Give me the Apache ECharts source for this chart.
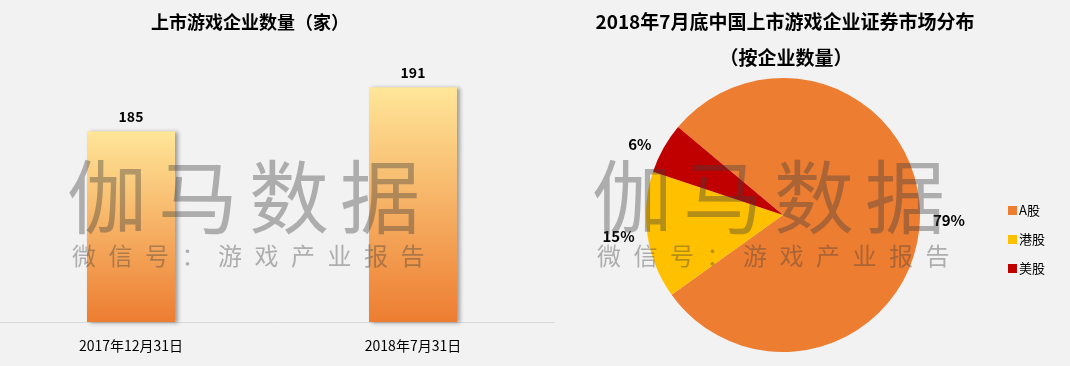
<!DOCTYPE html>
<html><head><meta charset="utf-8">
<script src="https://cdn.jsdelivr.net/npm/echarts@6/dist/echarts.min.js"></script>
<style>html,body{margin:0;padding:0;background:#f2f2f2}#c{width:1070px;height:366px}</style>
</head><body><div id="c"></div>
<script>
const barCategories = ['2017年12月31日', '2018年7月31日'];
const barValues = [185, 191];
const pieNames = ['A股', '港股', '美股'];
const pieValues = [79, 15, 6];
const pieColors = ['#ed7d31', '#ffc000', '#c00000'];
const titleLeft = '上市游戏企业数量（家）';
const titleRight1 = '2018年7月底中国上市游戏企业证券市场分布';
const titleRight2 = '（按企业数量）';
const wmBig = '伽马数据';
const wmSmall = '微信号：游戏产业报告';

const font = '"Noto Sans CJK SC", "Microsoft YaHei", sans-serif';
const chart = echarts.init(document.getElementById('c'));

function watermark(x0) {
  const els = [];
  Array.from(wmBig).forEach((ch, i) => {
    els.push({type:'text', z:100, silent:true, style:{x:x0 - 6 + i*91, y:157, text:ch, fontSize:80, fontWeight:'normal', fontFamily:font, fill:'rgba(60,60,60,0.38)'}});
  });
  Array.from(wmSmall).forEach((ch, i) => {
    els.push({type:'text', z:100, silent:true, style:{x:x0 - 1 + i*36.5, y:244, text:ch, fontSize:24, fontWeight:'normal', fontFamily:font, fill:'rgba(60,60,60,0.38)'}});
  });
  return els;
}

const option = {
  backgroundColor: '#f2f2f2',
  textStyle: {fontFamily: font},
  graphic: [
    {type:'text', style:{x:250, y:22, text:titleLeft, textAlign:'center', textVerticalAlign:'middle', fontSize:18, fontWeight:'bold', fontFamily:font, fill:'#000'}},
    {type:'text', style:{x:785, y:22, text:titleRight1, textAlign:'center', textVerticalAlign:'middle', fontSize:19, fontWeight:'bold', fontFamily:font, fill:'#000'}},
    {type:'text', style:{x:786, y:58, text:titleRight2, textAlign:'center', textVerticalAlign:'middle', fontSize:19, fontWeight:'bold', fontFamily:font, fill:'#000'}},
    ...watermark(73),
    ...watermark(598)
  ],
  grid: {left: -10, top: 58, width: 564, height: 264, containLabel: false, outerBoundsMode: 'none'},
  xAxis: {
    type: 'category', data: barCategories,
    axisLine: {show: true, lineStyle: {color: '#d9d9d9', width: 1}},
    axisTick: {show: false},
    axisLabel: {color: '#000', fontSize: 14, margin: 17, fontFamily: font}
  },
  yAxis: {type: 'value', min: 159, max: 195, show: false, splitLine: {show: false}},
  legend: {
    orient: 'vertical', left: 1003, top: 199, itemWidth: 9, itemHeight: 9, itemGap: 16,
    icon: 'rect', data: pieNames,
    textStyle: {fontSize: 13, color: '#000', fontFamily: font, padding: [0,0,0,-3]}
  },
  series: [
    {
      type: 'bar', data: barValues, barWidth: 88,
      itemStyle: {
        color: new echarts.graphic.LinearGradient(0, 0, 0, 1, [
          {offset: 0, color: '#ffe699'}, {offset: 1, color: '#ed7d31'}
        ]),
        shadowColor: 'rgba(0,0,0,0.35)', shadowBlur: 4, shadowOffsetX: 3, shadowOffsetY: 1
      },
      label: {show: true, position: 'top', distance: 8, fontSize: 14, fontWeight: 'bold', color: '#000', fontFamily: font}
    },
    {
      type: 'pie', center: [783, 215], radius: 137, startAngle: 140, clockwise: true,
      data: pieNames.map((n, i) => ({name: n, value: pieValues[i], itemStyle: {color: pieColors[i]}})),
      label: {show: true, position: 'outside', formatter: '{c}%', fontSize: 15, fontWeight: 'bold', color: '#000', fontFamily: font},
      labelLine: {show: false, length: 8, length2: 0},
      emphasis: {disabled: true}
    }
  ]
};
chart.setOption(option);
</script></body></html>
